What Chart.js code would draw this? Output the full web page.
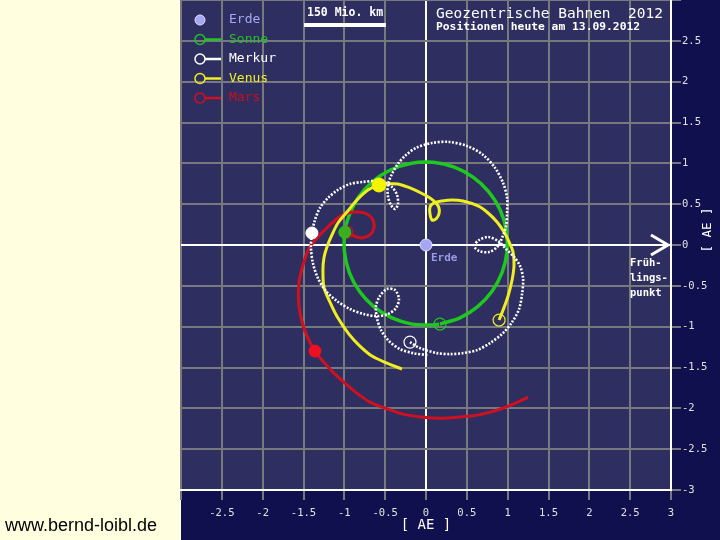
<!DOCTYPE html>
<html><head><meta charset="utf-8">
<script src="https://cdn.jsdelivr.net/npm/chart.js@4.4.0/dist/chart.umd.min.js"></script>
<style>html,body{margin:0;padding:0;background:#ffffe0;overflow:hidden}canvas{display:block}</style>
</head><body>
<canvas id="c" width="720" height="540"></canvas>
<script>
// ---- tick values / labels ----
const xTickValues = [-3,-2.5,-2,-1.5,-1,-0.5,0,0.5,1,1.5,2,2.5,3];
const xTickLabels = ['','-2.5','-2','-1.5','-1','-0.5','0','0.5','1','1.5','2','2.5','3'];
const yTickValues = [-3,-2.5,-2,-1.5,-1,-0.5,0,0.5,1,1.5,2,2.5,3];
const yTickLabels = ['-3','-2.5','-2','-1.5','-1','-0.5','0','0.5','1','1.5','2','2.5',''];

// ---- names ----
const bodyNames = ['Erde','Sonne','Merkur','Venus','Mars'];

// ---- geocentric tracks 2012 [AE] ----
const sunX = [0.171,0.416,0.633,0.809,0.931,0.991,0.984,0.910,0.772,0.580,0.347,0.088,-0.177,-0.430,-0.653,-0.829,-0.948,-0.994,-0.998,-0.937,-0.813,-0.636,-0.417,-0.171,0.086,0.160];
const sunY = [-0.968,-0.892,-0.754,-0.567,-0.339,-0.087,0.174,0.425,0.648,0.828,0.953,1.012,1.002,0.921,0.778,0.581,0.345,0.157,-0.087,-0.341,-0.570,-0.758,-0.893,-0.969,-0.979,-0.970];

const mercuryX = [-0.196,-0.074,0.135,0.294,0.453,0.625,0.784,0.944,1.054,1.140,1.176,1.189,1.152,1.078,0.980,0.882,0.760,0.650,0.588,0.650,0.772,0.870,0.931,0.980,0.993,0.993,0.944,0.846,0.699,0.502,0.282,0.074,-0.123,-0.257,-0.343,-0.417,-0.466,-0.466,-0.429,-0.380,-0.343,-0.355,-0.417,-0.515,-0.637,-0.772,-0.931,-1.078,-1.201,-1.299,-1.360,-1.397,-1.409,-1.385,-1.324,-1.225,-1.091,-0.931,-0.760,-0.600,-0.466,-0.368,-0.331,-0.380,-0.478,-0.564,-0.613,-0.600,-0.551,-0.453,-0.319,-0.159,0.025];
const mercuryY = [-1.189,-1.262,-1.324,-1.336,-1.324,-1.287,-1.201,-1.078,-0.944,-0.784,-0.600,-0.417,-0.257,-0.147,-0.049,0.049,0.098,0.061,-0.012,-0.074,-0.086,-0.025,0.086,0.233,0.404,0.576,0.760,0.944,1.103,1.213,1.262,1.250,1.189,1.091,0.993,0.870,0.735,0.600,0.490,0.441,0.502,0.613,0.711,0.772,0.784,0.772,0.748,0.674,0.576,0.453,0.306,0.147,-0.025,-0.221,-0.404,-0.564,-0.686,-0.784,-0.846,-0.870,-0.846,-0.772,-0.662,-0.551,-0.539,-0.625,-0.748,-0.895,-1.042,-1.176,-1.275,-1.324,-1.348];

const venusX = [0.895,0.944,1.005,1.054,1.078,1.066,1.017,0.956,0.870,0.760,0.637,0.453,0.319,0.196,0.098,0.049,0.049,0.074,0.123,0.159,0.159,0.123,0.049,-0.061,-0.196,-0.343,-0.490,-0.576,-0.711,-0.846,-0.968,-1.078,-1.152,-1.213,-1.250,-1.262,-1.250,-1.176,-1.078,-0.944,-0.809,-0.662,-0.478,-0.294];
const venusY = [-0.919,-0.797,-0.625,-0.429,-0.245,-0.086,0.037,0.159,0.282,0.392,0.478,0.539,0.551,0.539,0.515,0.466,0.380,0.306,0.319,0.380,0.453,0.515,0.576,0.637,0.699,0.748,0.748,0.735,0.674,0.551,0.404,0.270,0.123,-0.025,-0.159,-0.306,-0.515,-0.699,-0.895,-1.091,-1.238,-1.360,-1.446,-1.520];

const marsX = [-0.968,-0.882,-0.784,-0.686,-0.637,-0.650,-0.723,-0.833,-0.956,-1.078,-1.201,-1.324,-1.422,-1.495,-1.556,-1.556,-1.507,-1.434,-1.360,-1.262,-1.140,-0.993,-0.846,-0.686,-0.502,-0.282,-0.037,0.172,0.380,0.625,0.870,1.066,1.250];
const marsY = [0.159,0.110,0.086,0.123,0.208,0.306,0.380,0.404,0.392,0.331,0.221,0.098,-0.025,-0.208,-0.466,-0.735,-0.980,-1.164,-1.299,-1.422,-1.556,-1.691,-1.814,-1.924,-1.998,-2.071,-2.108,-2.120,-2.108,-2.083,-2.022,-1.949,-1.863];

// positions "heute" 13.09.2012 (Erde, Sonne, Merkur, Venus, Mars)
const nowX = [0, -0.994, -1.397, -0.576, -1.360];
const nowY = [0, 0.157, 0.147, 0.735, -1.299];

// ---- styles ----
const COL = {erde:'#a6a6f2', sonne:'#1ec81e', merkur:'#ffffff', venus:'#eeee22', mars:'#d0101e'};
const PLOTBG = '#2f2e60', OUTER = '#10104e', GRID = '#78787f';

function pts(xs, ys){ return xs.map((x,i)=>({x:x, y:ys[i]})); }
function track(xs, ys, color, w, order, dash){
  return {data:pts(xs,ys), showLine:true, borderColor:color, borderWidth:w, pointRadius:0,
          tension:0.3, order:order, borderDash:dash||[], fill:false};
}
function marker(x, y, color, r, filled, order, border){
  return {data:[{x:x,y:y}], showLine:false, pointRadius:r, pointHoverRadius:r,
          pointBackgroundColor: filled ? color : 'rgba(0,0,0,0)',
          pointBorderColor: border || color, pointBorderWidth: filled ? 1 : 1.2, order:order};
}

const datasets = [
  track(sunX, sunY, COL.sonne, 3.5, 9),
  track(marsX, marsY, COL.mars, 3, 8),
  track(venusX, venusY, COL.venus, 3, 7),
  track(mercuryX, mercuryY, COL.merkur, 2.6, 6, [2,1.6]),
  marker(marsX[0], marsY[0], COL.mars, 6, false, 5),
  marker(sunX[0], sunY[0], COL.sonne, 6, false, 5),
  marker(venusX[0], venusY[0], COL.venus, 6, false, 5),
  marker(mercuryX[0], mercuryY[0], COL.merkur, 6, false, 5),
  marker(nowX[0], nowY[0], COL.erde, 6, true, 1, '#dcdcff'),
  marker(nowX[1], nowY[1], '#3cae1e', 6, true, 1, COL.sonne),
  marker(nowX[2], nowY[2], COL.merkur, 6, true, 1),
  marker(nowX[3], nowY[3], '#f4f400', 7, true, 1),
  marker(nowX[4], nowY[4], '#ee1020', 6, true, 1)
];

const deco = {
  id:'deco',
  beforeDraw(chart){
    const {ctx, chartArea:a} = chart;
    ctx.save();
    ctx.fillStyle = '#ffffe0'; ctx.fillRect(0,0,181,540);
    ctx.fillStyle = OUTER; ctx.fillRect(181,0,539,540);
    ctx.fillStyle = PLOTBG; ctx.fillRect(a.left,a.top,a.right-a.left,a.bottom-a.top);
    ctx.restore();
  },
  afterDatasetsDraw(chart){
    const {ctx} = chart;
    const xs = chart.scales.x, ys = chart.scales.y;
    const y0 = ys.getPixelForValue(0), xr = xs.getPixelForValue(3) - 3;
    ctx.save();
    // arrow (Frühlingspunkt)
    ctx.strokeStyle = '#ffffff'; ctx.lineWidth = 3; ctx.lineCap = 'butt';
    ctx.beginPath();
    ctx.moveTo(xr-17, y0-10); ctx.lineTo(xr, y0); ctx.lineTo(xr-17, y0+10);
    ctx.stroke();
    ctx.fillStyle = '#ffffff'; ctx.textBaseline = 'middle'; ctx.textAlign = 'left';
    ctx.font = 'bold 10.5px "DejaVu Sans Mono"';
    ctx.fillText('Früh-', 630, 263);
    ctx.fillText('lings-', 630, 278);
    ctx.fillText('punkt', 630, 293);
    // Erde label
    ctx.fillStyle = '#9a9ae6'; ctx.font = 'bold 11px "DejaVu Sans Mono"';
    ctx.fillText('Erde', xs.getPixelForValue(0)+5, y0+13);
    // title
    ctx.fillStyle = '#ffffff';
    ctx.font = '14.5px "DejaVu Sans Mono"';
    ctx.fillText('Geozentrische Bahnen  2012', 436, 14);
    ctx.font = 'bold 11.3px "DejaVu Sans Mono"';
    ctx.fillText('Positionen heute am 13.09.2012', 436, 27);
    // scale bar
    ctx.font = 'bold 11.5px "DejaVu Sans Mono"';
    ctx.fillText('150 Mio. km', 307, 13);
    const len = xs.getPixelForValue(1.0027) - xs.getPixelForValue(0);
    ctx.fillRect(304, 23, len, 4);
    // legend
    const lc = [COL.erde, COL.sonne, COL.merkur, COL.venus, COL.mars];
    const tc = ['#a8a8f4', '#22c022', '#ffffff', '#eeee22', '#c8101e'];
    ctx.font = '13px "DejaVu Sans Mono"';
    bodyNames.forEach((n,i)=>{
      const y = 20 + i*19.5;
      if (i === 0){
        ctx.beginPath(); ctx.arc(200, y, 5, 0, Math.PI*2);
        ctx.fillStyle = lc[0]; ctx.fill();
        ctx.strokeStyle = '#dcdcff'; ctx.lineWidth = 1; ctx.stroke();
      } else {
        ctx.strokeStyle = lc[i]; ctx.lineWidth = 2.5;
        ctx.beginPath(); ctx.moveTo(205, y); ctx.lineTo(221, y); ctx.stroke();
        ctx.lineWidth = 1.5;
        ctx.beginPath(); ctx.arc(200, y, 5, 0, Math.PI*2); ctx.stroke();
      }
      ctx.fillStyle = tc[i];
      ctx.fillText(n, 229, y);
    });
    // axis titles
    ctx.fillStyle = '#ffffff'; ctx.textAlign = 'center';
    ctx.font = '14px "DejaVu Sans Mono"';
    ctx.fillText('[ AE ]', xs.getPixelForValue(0), 525);
    ctx.save();
    ctx.translate(708, 230); ctx.rotate(-Math.PI/2);
    ctx.font = '12.5px "DejaVu Sans Mono"';
    ctx.fillText('[ AE ]', 0, 0);
    ctx.restore();
    // site
    ctx.fillStyle = '#000000'; ctx.textAlign = 'left';
    ctx.font = '18px "Liberation Sans"';
    ctx.fillText('www.bernd-loibl.de', 5, 526);
    ctx.restore();
  }
};

const tickFont = {family:'"DejaVu Sans Mono"', size:10.5};
const yTickFont = {family:'"DejaVu Sans Mono"', size:10.5, lineHeight:0};
new Chart(document.getElementById('c'), {
  type:'scatter',
  data:{datasets:datasets},
  plugins:[deco],
  options:{
    responsive:false, animation:false, devicePixelRatio:1,
    layout:{autoPadding:false, padding:{left:181, right:0, top:0, bottom:0}},
    plugins:{legend:{display:false}, tooltip:{enabled:false}},
    scales:{
      x:{type:'linear', min:-3, max:3, position:'bottom',
         afterBuildTicks:s=>{ s.ticks = xTickValues.map(v=>({value:v})); },
         afterFit:s=>{ s.height = 50; s.paddingLeft = 0; s.paddingRight = 0; },
         ticks:{autoSkip:false, maxRotation:0, color:'#e2e2e2', font:tickFont, padding:7,
                callback:(v)=>xTickLabels[xTickValues.indexOf(v)]},
         grid:{color:c=>(c.tick && c.tick.value===0) ? '#ffffff' : GRID, lineWidth:2,
               tickColor:GRID, tickLength:10},
         border:{display:true, color:'#ffffff', width:2}
      },
      y:{type:'linear', min:-3, max:3, position:'right',
         afterBuildTicks:s=>{ s.ticks = yTickValues.map(v=>({value:v})); },
         afterFit:s=>{ s.width = 49; s.paddingTop = 0; s.paddingBottom = 0; },
         ticks:{autoSkip:false, color:'#e2e2e2', font:yTickFont, padding:1,
                callback:(v)=>yTickLabels[yTickValues.indexOf(v)]},
         grid:{color:c=>(c.tick && c.tick.value===0) ? '#ffffff' : GRID, lineWidth:2,
               tickColor:GRID, tickLength:10},
         border:{display:true, color:'#ffffff', width:2}
      }
    }
  }
});
</script>
</body></html>
